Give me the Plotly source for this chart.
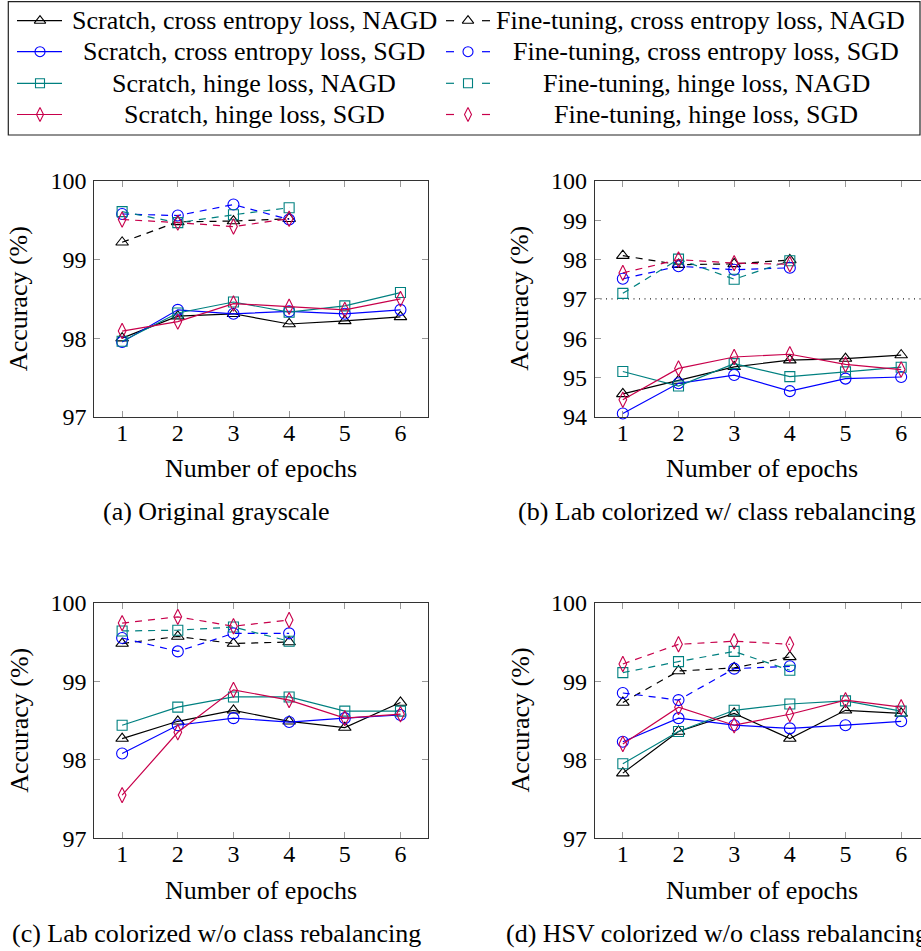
import plotly.graph_objects as go

# ---------------- data ----------------
epochs_scratch = [1, 2, 3, 4, 5, 6]
epochs_finetune = [1, 2, 3, 4]

series_labels_scratch = [
    "Scratch, cross entropy loss, NAGD",
    "Scratch, cross entropy loss, SGD",
    "Scratch, hinge loss, NAGD",
    "Scratch, hinge loss, SGD",
]
series_labels_finetune = [
    "Fine-tuning, cross entropy loss, NAGD",
    "Fine-tuning, cross entropy loss, SGD",
    "Fine-tuning, hinge loss, NAGD",
    "Fine-tuning, hinge loss, SGD",
]

# (a) Original grayscale  — order: CE NAGD, CE SGD, hinge NAGD, hinge SGD
a_scratch = [
    [98.00, 98.28, 98.31, 98.18, 98.22, 98.27],
    [97.95, 98.36, 98.31, 98.34, 98.31, 98.36],
    [97.96, 98.32, 98.46, 98.33, 98.41, 98.58],
    [98.09, 98.21, 98.44, 98.40, 98.36, 98.50],
]
a_finetune = [
    [99.22, 99.48, 99.49, 99.52],
    [99.58, 99.56, 99.70, 99.51],
    [99.61, 99.47, 99.57, 99.66],
    [99.51, 99.47, 99.42, 99.52],
]

# (b) Lab colorized w/ class rebalancing
b_scratch = [
    [94.58, 94.92, 95.27, 95.44, 95.48, 95.57],
    [94.08, 94.85, 95.06, 94.65, 94.97, 95.01],
    [95.15, 94.78, 95.35, 95.02, 95.14, 95.26],
    [94.43, 95.23, 95.52, 95.59, 95.33, 95.20],
]
b_finetune = [
    [98.10, 97.87, 97.89, 97.99],
    [97.51, 97.83, 97.74, 97.79],
    [97.14, 98.01, 97.50, 97.97],
    [97.66, 98.00, 97.91, 97.88],
]

# (c) Lab colorized w/o class rebalancing
c_scratch = [
    [98.27, 98.49, 98.63, 98.49, 98.41, 98.73],
    [98.08, 98.44, 98.53, 98.48, 98.53, 98.57],
    [98.44, 98.67, 98.80, 98.80, 98.62, 98.62],
    [97.55, 98.35, 98.89, 98.76, 98.53, 98.58],
]
c_finetune = [
    [99.48, 99.57, 99.48, 99.50],
    [99.55, 99.38, 99.61, 99.61],
    [99.64, 99.65, 99.69, 99.51],
    [99.74, 99.82, 99.70, 99.78],
]

# (d) HSV colorized w/o class rebalancing
d_scratch = [
    [97.83, 98.36, 98.59, 98.27, 98.63, 98.59],
    [98.23, 98.53, 98.44, 98.40, 98.44, 98.49],
    [97.95, 98.36, 98.63, 98.71, 98.75, 98.62],
    [98.20, 98.67, 98.44, 98.58, 98.76, 98.67],
]
d_finetune = [
    [98.73, 99.13, 99.17, 99.31],
    [98.85, 98.76, 99.16, 99.19],
    [99.11, 99.25, 99.38, 99.14],
    [99.22, 99.47, 99.51, 99.47],
]

panel_captions = [
    "(a) Original grayscale",
    "(b) Lab colorized w/ class rebalancing",
    "(c) Lab colorized w/o class rebalancing",
    "(d) HSV colorized w/o class rebalancing",
]
y_ranges = [[97, 100], [94, 100], [97, 100], [97, 100]]
ref_line_b = 97
x_title = "Number of epochs"
y_title = "Accuracy (%)"

# ---------------- style ----------------
W, H = 921, 951
FONT = "Liberation Serif, DejaVu Serif, serif"
TXT = 26
TICK = 24
colors = ["#000000", "#0000ff", "#008080", "#c8004b"]
symbols = ["triangle-up-open", "circle-open", "square-open", "diamond-tall-open"]
msizes = [11, 11, 10, 11]
LW = 1.2
DASH = "7px,6px"
AXIS_COLOR = "#333333"
TICK_COLOR = "#999999"
CLEAR = "rgba(0,0,0,0)"


def px(x):
    return x / W


def py(y):
    return 1 - y / H


# panel frames in pixels: (left, right, top, bottom)
frames = [
    (94.3, 428.3, 181.0, 416.7),
    (595.0, 921.0, 181.0, 416.7),
    (94.3, 428.3, 602.7, 838.3),
    (595.0, 921.0, 602.7, 838.3),
]
full_w = 428.3 - 94.3
unit = full_w / 6.0
x_ranges = []
for (l, r, t, b) in frames:
    x_ranges.append([0.5, 0.5 + (r - l) / unit])

scratch_data = [a_scratch, b_scratch, c_scratch, d_scratch]
finetune_data = [a_finetune, b_finetune, c_finetune, d_finetune]

fig = go.Figure()

for p in range(4):
    xa = "x" if p == 0 else f"x{p+1}"
    ya = "y" if p == 0 else f"y{p+1}"
    for s in range(4):
        fig.add_trace(go.Scatter(
            x=epochs_scratch, y=scratch_data[p][s], xaxis=xa, yaxis=ya,
            mode="lines+markers", name=series_labels_scratch[s], showlegend=False,
            line=dict(color=colors[s], width=LW),
            marker=dict(symbol=symbols[s], size=msizes[s], color=colors[s],
                        line=dict(width=1.1, color=colors[s])),
            cliponaxis=False,
        ))
    for s in range(4):
        fig.add_trace(go.Scatter(
            x=epochs_finetune, y=finetune_data[p][s], xaxis=xa, yaxis=ya,
            mode="lines+markers", name=series_labels_finetune[s], showlegend=False,
            line=dict(color=colors[s], width=LW, dash=DASH),
            marker=dict(symbol=symbols[s], size=msizes[s], color=colors[s],
                        line=dict(width=1.1, color=colors[s])),
            cliponaxis=False,
        ))

layout = dict(
    template="none",
    width=W, height=H, autosize=False,
    margin=dict(l=0, r=0, t=0, b=0, pad=0, autoexpand=False),
    paper_bgcolor="white", plot_bgcolor=CLEAR,
    font=dict(family=FONT, size=TXT, color="black"),
    showlegend=False,
)

annotations = []
shapes = []
for p, (l, r, t, b) in enumerate(frames):
    xk = "xaxis" if p == 0 else f"xaxis{p+1}"
    yk = "yaxis" if p == 0 else f"yaxis{p+1}"
    right_cut = p in (1, 3)
    layout[xk] = dict(
        domain=[px(l), px(r)], range=x_ranges[p],
        anchor="y" if p == 0 else f"y{p+1}",
        tickmode="array", tickvals=epochs_scratch,
        ticks="inside", ticklen=6, tickwidth=1, tickcolor=TICK_COLOR,
        showline=True, linecolor=AXIS_COLOR, linewidth=1.2, mirror="ticks",
        showgrid=False, zeroline=False, automargin=False,
        tickfont=dict(family=FONT, size=TICK, color="black"),
        ticklabelstandoff=-6,
    )
    layout[yk] = dict(
        domain=[py(b), py(t)], range=y_ranges[p],
        anchor="x" if p == 0 else f"x{p+1}",
        dtick=1, ticks="inside", ticklen=6, tickwidth=1, tickcolor=TICK_COLOR,
        showline=True, linecolor=AXIS_COLOR, linewidth=1.2,
        mirror=False if right_cut else "ticks",
        showgrid=False, zeroline=False, automargin=False,
        tickfont=dict(family=FONT, size=TICK, color="black"),
        ticklabelstandoff=2,
    )
    full_r = l + full_w
    cx = (l + full_r) / 2
    annotations.append(dict(text=x_title, x=px(cx), y=py(b + 52), xref="paper", yref="paper",
                            showarrow=False, xanchor="center", yanchor="middle",
                            font=dict(size=TXT)))
    annotations.append(dict(text=y_title, x=px(l - 75), y=py((t + b) / 2), xref="paper", yref="paper",
                            showarrow=False, xanchor="center", yanchor="middle", textangle=-90,
                            font=dict(size=TXT)))
    annotations.append(dict(text=panel_captions[p], x=px(cx - 45), y=py(b + 95), xref="paper", yref="paper",
                            showarrow=False, xanchor="center", yanchor="middle",
                            font=dict(size=TXT)))

# dotted reference line in (b)
shapes.append(dict(type="line", xref="x2 domain", yref="y2", x0=0, x1=1,
                   y0=ref_line_b, y1=ref_line_b,
                   line=dict(color="#222222", width=1.3, dash="1px,4.5px"), layer="below"))

# ---------------- manual legend ----------------
LEG_L, LEG_R, LEG_T, LEG_B = 8.3, 920.0, 1.7, 135.0
shapes.append(dict(type="rect", xref="paper", yref="paper",
                   x0=px(LEG_L), x1=px(LEG_R), y0=py(LEG_B), y1=py(LEG_T),
                   line=dict(color="#222222", width=1.2), fillcolor=CLEAR))
row_y = [20.7, 51.7, 83.3, 114.5]
col1_sample = (17, 62, 40)
col2_sample = (446, 490, 468)
col1_text_cx = [254, 254, 254, 254]
col2_text_cx = [700, 706, 706, 706]

layout["xaxis5"] = dict(domain=[0, 1], range=[0, W], visible=False, anchor="y5",
                        fixedrange=True, automargin=False)
layout["yaxis5"] = dict(domain=[0, 1], range=[H, 0], visible=False, anchor="x5",
                        fixedrange=True, automargin=False)

for s in range(4):
    yy = row_y[s]
    x0, x1, xm = col1_sample
    fig.add_trace(go.Scatter(x=[x0, x1], y=[yy, yy], xaxis="x5", yaxis="y5", mode="lines",
                             line=dict(color=colors[s], width=LW), showlegend=False, hoverinfo="skip"))
    fig.add_trace(go.Scatter(x=[xm], y=[yy], xaxis="x5", yaxis="y5", mode="markers",
                             marker=dict(symbol=symbols[s], size=msizes[s] - 1, color=colors[s],
                                         line=dict(width=1.1, color=colors[s])),
                             showlegend=False, hoverinfo="skip"))
    x0, x1, xm = col2_sample
    fig.add_trace(go.Scatter(x=[x0, x0 + 8, None, x1 - 8, x1], y=[yy, yy, None, yy, yy],
                             xaxis="x5", yaxis="y5", mode="lines",
                             line=dict(color=colors[s], width=LW), showlegend=False, hoverinfo="skip"))
    fig.add_trace(go.Scatter(x=[xm], y=[yy], xaxis="x5", yaxis="y5", mode="markers",
                             marker=dict(symbol=symbols[s], size=msizes[s] - 1, color=colors[s],
                                         line=dict(width=1.1, color=colors[s])),
                             showlegend=False, hoverinfo="skip"))
    annotations.append(dict(text=series_labels_scratch[s], x=px(col1_text_cx[s]), y=py(yy),
                            xref="paper", yref="paper", showarrow=False,
                            xanchor="center", yanchor="middle", font=dict(size=TXT)))
    annotations.append(dict(text=series_labels_finetune[s], x=px(col2_text_cx[s]), y=py(yy),
                            xref="paper", yref="paper", showarrow=False,
                            xanchor="center", yanchor="middle", font=dict(size=TXT)))

layout["annotations"] = annotations
layout["shapes"] = shapes
fig.update_layout(**layout)

fig.write_html(
    "out.html",
    include_plotlyjs=True,
    config={"displayModeBar": False},
    post_script="document.body.style.margin='0px';document.body.style.padding='0px';"
                "document.body.style.overflow='hidden';"
                "document.documentElement.style.overflow='hidden';",
)
